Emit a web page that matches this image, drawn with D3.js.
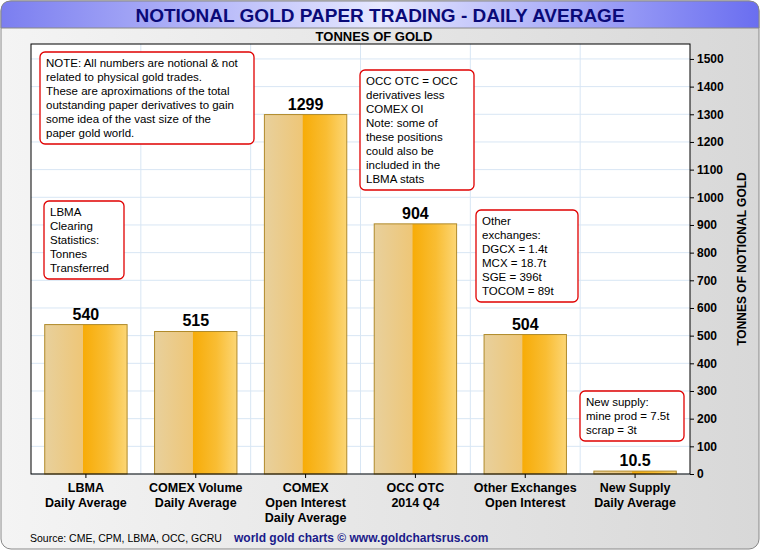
<!DOCTYPE html>
<html><head><meta charset="utf-8">
<script src="https://cdn.jsdelivr.net/npm/d3@7"></script>
<style>body{margin:0;background:#fff}text{font-family:Arial,"Liberation Sans",sans-serif}</style>
</head><body><svg id="c" width="760" height="550"></svg>
<script>
var categories = [["LBMA","Daily Average"],["COMEX Volume","Daily Average"],["COMEX","Open Interest","Daily Average"],["OCC OTC","2014 Q4"],["Other Exchanges","Open Interest"],["New Supply","Daily Average"]];
var values = [540, 515, 1299, 904, 504, 10.5];
var valueLabels = ["540","515","1299","904","504","10.5"];
var yTicks = d3.range(0, 1501, 100);
var notes = [
  {x:40,y:52,w:214,lines:["NOTE: All numbers are notional & not","related to physical gold trades.","These are aproximations of the total","outstanding paper derivatives to gain","some idea of the vast size of the","paper gold world."]},
  {x:360,y:70,w:114,lines:["OCC OTC = OCC","derivatives less","COMEX OI","Note: some of","these positions","could also be","included in the","LBMA stats"]},
  {x:44,y:201,w:80,lines:["LBMA","Clearing","Statistics:","Tonnes","Transferred"]},
  {x:476,y:210,w:102,lines:["Other","exchanges:","DGCX = 1.4t","MCX = 18.7t","SGE = 396t","TOCOM = 89t"]},
  {x:580,y:391,w:104,lines:["New supply:","mine prod = 7.5t","scrap = 3t"]}
];

var svg = d3.select("#c");
var defs = svg.append("defs");
var bg = defs.append("linearGradient").attr("id","bg").attr("x1",0).attr("y1",0).attr("x2",1).attr("y2",0);
bg.append("stop").attr("offset","0%").attr("stop-color","#f4f4f4");
bg.append("stop").attr("offset","100%").attr("stop-color","#d8d8d8");
var tg = defs.append("linearGradient").attr("id","tg").attr("x1",0).attr("y1",0).attr("x2",1).attr("y2",0);
tg.append("stop").attr("offset","0%").attr("stop-color","#7b7ef0");
tg.append("stop").attr("offset","50%").attr("stop-color","#e6e8ff");
tg.append("stop").attr("offset","100%").attr("stop-color","#6a6ef0");
var bgr = defs.append("linearGradient").attr("id","bar").attr("x1",0).attr("y1",0).attr("x2",1).attr("y2",0);
[["0%","#e8d09c"],["46%","#eec677"],["47%","#f7ac08"],["75%","#f9bd33"],["100%","#fcd675"]].forEach(function(s){
  bgr.append("stop").attr("offset",s[0]).attr("stop-color",s[1]);
});

svg.append("rect").attr("x",1).attr("y",1).attr("width",758).attr("height",548).attr("rx",10)
  .attr("fill","url(#bg)").attr("stroke","#888");
svg.append("path").attr("d","M1,28 V11 Q1,1 11,1 H749 Q759,1 759,11 V28 Z").attr("fill","url(#tg)").attr("stroke","#888");
svg.append("text").attr("x",380).attr("y",22).attr("text-anchor","middle").attr("font-size",19).attr("font-weight","bold")
  .attr("fill","#0a0a78").text("NOTIONAL GOLD PAPER TRADING - DAILY AVERAGE");
svg.append("text").attr("x",374).attr("y",41).attr("text-anchor","middle").attr("font-size",13).attr("font-weight","bold")
  .text("TONNES OF GOLD");

var x = d3.scaleBand().domain(d3.range(categories.length)).range([31,690]).paddingInner(0.25).paddingOuter(0.125);
var y = d3.scaleLinear().domain([0,1554]).range([474,44]);

svg.append("rect").attr("x",31).attr("y",44).attr("width",659).attr("height",430).attr("fill","#fff");
var grid = svg.append("g");
yTicks.forEach(function(t){
  grid.append("line").attr("x1",31).attr("x2",690).attr("y1",y(t)).attr("y2",y(t)).attr("stroke","#d8e6f4");
});
d3.range(1,6).forEach(function(i){
  var gx = 31 + i*659/6;
  grid.append("line").attr("x1",gx).attr("x2",gx).attr("y1",44).attr("y2",474).attr("stroke","#d8e6f4");
});

svg.selectAll(".bar").data(values).enter().append("rect").attr("class","bar")
  .attr("x",function(d,i){return x(i);}).attr("width",x.bandwidth())
  .attr("y",function(d){return y(d);}).attr("height",function(d){return 474-y(d);})
  .attr("fill","url(#bar)").attr("stroke","#b08a2a").attr("stroke-width",1);
svg.selectAll(".vl").data(values).enter().append("text")
  .attr("x",function(d,i){return x(i)+x.bandwidth()/2;}).attr("y",function(d){return y(d)-5;})
  .attr("text-anchor","middle").attr("font-size",16).attr("font-weight","bold")
  .text(function(d,i){return valueLabels[i];});

svg.append("rect").attr("x",31).attr("y",44).attr("width",659).attr("height",430).attr("fill","none").attr("stroke","#000");

var yAxis = svg.append("g").attr("transform","translate(690,0)")
  .call(d3.axisRight(y).tickValues(yTicks).tickSize(4).tickFormat(d3.format("d")));
yAxis.select(".domain").remove();
yAxis.selectAll("text").attr("font-size",12).attr("font-weight","bold").attr("fill","#000");
svg.append("text").attr("transform","translate(746,259) rotate(-90)").attr("text-anchor","middle")
  .attr("font-size",12).attr("font-weight","bold").text("TONNES OF NOTIONAL GOLD");

categories.forEach(function(c,i){
  var cx = 31 + (i+0.5)*659/6;
  svg.append("line").attr("x1",cx).attr("x2",cx).attr("y1",474).attr("y2",478).attr("stroke","#000");
  c.forEach(function(l,j){
    svg.append("text").attr("x",cx).attr("y",492+j*15).attr("text-anchor","middle")
      .attr("font-size",12.5).attr("font-weight","bold").text(l);
  });
});

notes.forEach(function(n){
  var h = n.lines.length*14 + 8;
  svg.append("rect").attr("x",n.x).attr("y",n.y).attr("width",n.w).attr("height",h).attr("rx",5)
    .attr("fill","#fff").attr("stroke","#e00000").attr("stroke-width",1.3);
  n.lines.forEach(function(l,j){
    svg.append("text").attr("x",n.x+6).attr("y",n.y+15+j*14).attr("font-size",11.5).text(l);
  });
});

svg.append("text").attr("x",30).attr("y",542).attr("font-size",10.5).text("Source: CME, CPM, LBMA, OCC, GCRU");
svg.append("text").attr("x",234).attr("y",542).attr("font-size",12).attr("font-weight","bold").attr("fill","#1a1a8a")
  .text("world gold charts \u00a9 www.goldchartsrus.com");
</script></body></html>
